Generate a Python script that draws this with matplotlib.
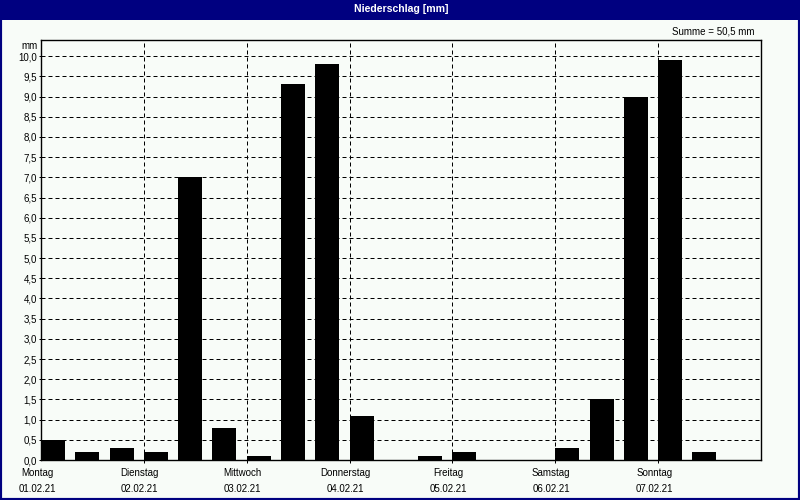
import matplotlib
matplotlib.use("Agg")
import matplotlib.pyplot as plt
import matplotlib.transforms as mtransforms
from matplotlib.patches import Rectangle

# Niederschlag je 8-Stunden-Intervall (mm), 01.02.21 00:00 bis 07.02.21 24:00
hours = [0, 8, 16, 24, 32, 40, 48, 56, 64, 72, 80, 88, 96, 104, 112, 120, 128, 136, 144, 152, 160]
rain = [0.5, 0.2, 0.3, 0.2, 7.0, 0.8, 0.1, 9.3, 9.8, 1.1, 0.0, 0.1, 0.2, 0.0, 0.0, 0.3, 1.5, 9.0, 9.9, 0.2, 0.0]
days = ["Montag", "Dienstag", "Mittwoch", "Donnerstag", "Freitag", "Samstag", "Sonntag"]
dates = ["01.02.21", "02.02.21", "03.02.21", "04.02.21", "05.02.21", "06.02.21", "07.02.21"]
day_hours = [0, 24, 48, 72, 96, 120, 144]
y_ticks = [i * 0.5 for i in range(21)]
y_labels = [f"{v:.1f}".replace(".", ",") for v in y_ticks]

plt.rcParams['font.family'] = ['Liberation Sans', 'DejaVu Sans']
bg = '#f8fcf8'
navy = '#000080'
fs = 7

fig = plt.figure(figsize=(8, 5), dpi=100, facecolor=bg)
ax = fig.add_axes([41 / 800, 40 / 500, 720 / 800, 420 / 500], facecolor=bg)

# Balken: Intervallbeginn, 70% Breite
ax.bar(hours, rain, width=5.6, align='edge', color='black', zorder=3)

ax.set_xlim(0, 168)
ax.set_ylim(0, 10.4)

# Raster
for y in y_ticks[1:]:
    ax.axhline(y, color='black', lw=0.72, ls=(0, (4, 3)), zorder=1)
for d in day_hours[1:]:
    ax.axvline(d, color='black', lw=0.72, ls=(0, (4, 3)), zorder=1)

ax.set_yticks(y_ticks)
ax.set_yticklabels(y_labels, fontsize=fs)
ax.tick_params(axis='y', length=1.5, width=0.72, pad=1.5)
ax.set_xticks(day_hours[1:])
ax.set_xticklabels([])
ax.tick_params(axis='x', length=2, width=0.72)
for s in ax.spines.values():
    s.set_linewidth(1.0)
    s.set_color('black')

# Achsenbeschriftung unten
trans = mtransforms.blended_transform_factory(ax.transData, ax.transAxes)
off = mtransforms.ScaledTranslation(-4 / 100, 0, fig.dpi_scale_trans)
for d, name, date in zip(day_hours, days, dates):
    ax.text(d, -13 / 420, name, transform=trans + off, ha='center', va='center', fontsize=fs)
    ax.text(d, -29 / 420, date, transform=trans + off, ha='center', va='center', fontsize=fs)

fig.text(38 / 800, 1 - 46 / 500, "mm", ha='right', va='center', fontsize=fs)
fig.text(754 / 800, 1 - 31 / 500, "Summe = 50,5 mm", ha='right', va='center', fontsize=fs)

# Titelleiste und Rahmen
fig.patches.append(Rectangle((0, 1 - 20 / 500), 1, 20 / 500, transform=fig.transFigure,
                             facecolor=navy, edgecolor='none', zorder=0))
fig.patches.append(Rectangle((0, 0), 1, 1, transform=fig.transFigure,
                             facecolor='none', edgecolor=navy, lw=3, zorder=5))
fig.text(0.502, 1 - 9 / 500, "Niederschlag [mm]", ha='center', va='center',
         fontsize=7.6, fontweight='bold', color='white')

fig.savefig("out.png", dpi=100, facecolor=bg)
